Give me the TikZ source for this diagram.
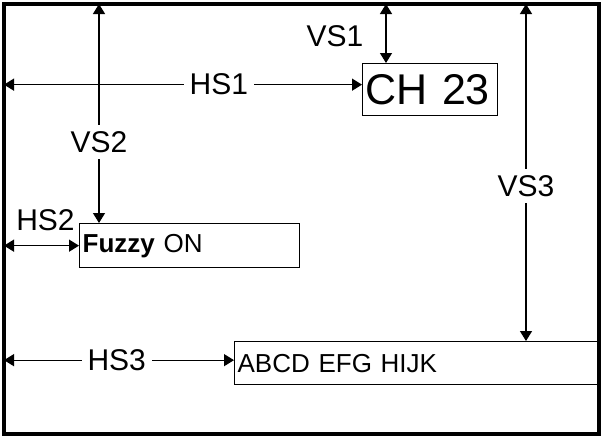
\documentclass[tikz,border=0pt]{standalone}
\usepackage{fontspec}
\setmainfont{Liberation Sans}
\usetikzlibrary{arrows.meta,positioning}
\tikzset{
  screen/.style={draw=black, line width=4pt, inner sep=0pt, outer sep=0pt},
  osdbox/.style={draw=black, line width=1.3pt, anchor=north west, inner sep=3pt, align=left, font=\fontsize{26}{28}\selectfont},
  bigbox/.style={osdbox, font=\fontsize{43}{45}\selectfont},
  lbl/.style={fill=white, inner sep=6pt, font=\fontsize{30}{32}\selectfont},
  dim/.style={{Triangle[length=10pt,width=12pt]}-{Triangle[length=10pt,width=12pt]}, line width=1.3pt, draw=black}
}

\begin{document}
\begin{tikzpicture}[x=1pt, y=-1pt]
\useasboundingbox (0,0) rectangle (602,437);
\node[screen, anchor=north west, minimum width=595pt, minimum height=430pt] (screen) at (4,4) {};
\node[bigbox, minimum height=52pt, text width=129pt] (ch) at (362,63) {CH 23};
\node[osdbox, minimum height=44pt, text width=214pt] (fuzzy) at (79,223) {\textbf{Fuzzy} ON};
\node[osdbox, minimum height=43pt, text width=359pt] (text) at (234,341) {ABCD EFG HIJK};
% spacing marks
\coordinate (hs1) at ([yshift=5pt]ch.west);
\coordinate (vs1) at ([xshift=24pt]ch.north west);
\coordinate (vs2) at ([xshift=20pt]fuzzy.north west);
\coordinate (vs3) at ([xshift=292pt]text.north west);
\coordinate (hs3) at ([yshift=3pt]text.west);
\draw[dim] (screen.west |- hs1) -- node[lbl, pos=0.6] {HS1} (hs1);
\draw[dim] (vs1 |- screen.north) -- node[lbl, fill=none, left=16pt, pos=0.55] {VS1} (vs1);
\draw[dim] (vs2 |- screen.north) -- node[lbl, pos=0.63] {VS2} (vs2);
\draw[dim] (vs3 |- screen.north) -- node[lbl, pos=0.54] {VS3} (vs3);
\draw[dim] (screen.west |- fuzzy.west) -- node[lbl, fill=none, inner sep=2pt, above=12pt, xshift=4pt] {HS2} (fuzzy.west);
\draw[dim] (screen.west |- hs3) -- node[lbl, pos=0.49] {HS3} (hs3);
\end{tikzpicture}
\end{document}
